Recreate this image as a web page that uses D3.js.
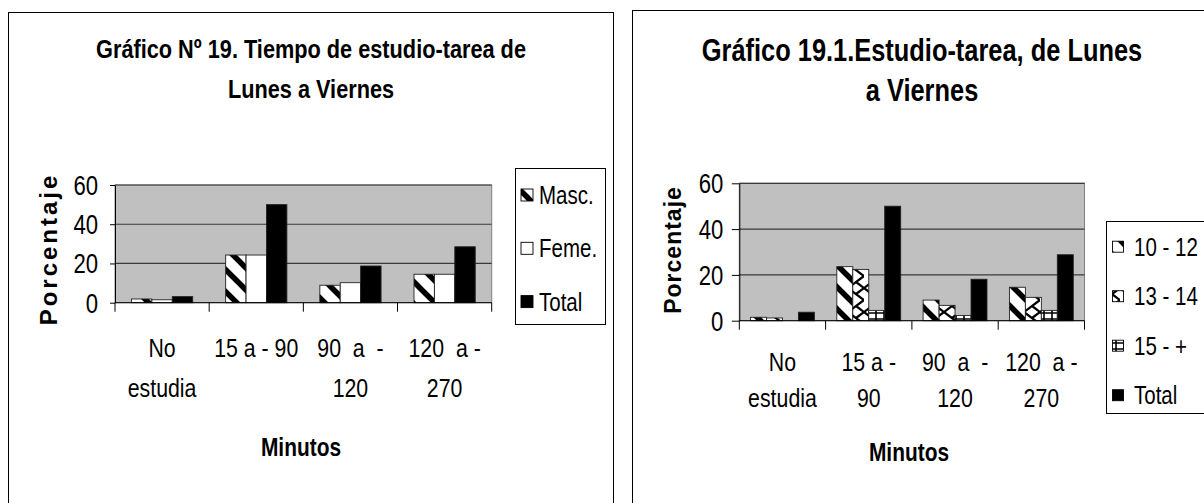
<!DOCTYPE html>
<html><head><meta charset="utf-8">
<script src="https://cdn.jsdelivr.net/npm/d3@7"></script>
<style>html,body{margin:0;padding:0;background:#fff;} svg{display:block}</style>
</head><body>
<svg id="c" width="1204" height="503"></svg>
<script>
// ---------- DATA ----------
const categories = ["No estudia", "15 a - 90", "90 a - 120", "120 a - 270"];
const catLines1 = [["No", "estudia"], ["15 a - 90"], ["90  a  -", "120"], ["120  a -", "270"]];
const catLines2 = [["No", "estudia"], ["15 a -", "90"], ["90  a  -", "120"], ["120  a -", "270"]];
const yTicks = [0, 20, 40, 60];

const seriesNames1 = ["Masc.", "Feme.", "Total"];
const masc   = [1.9, 24.3, 8.9, 14.5];
const feme   = [1.5, 24.3, 10.2, 14.5];
const total1 = [3.1, 50, 18.7, 28.5];

const seriesNames2 = ["10 - 12", "13 - 14", "15 - +", "Total"];
const edad1012 = [1.5, 23.6, 9.0, 14.6];
const edad1314 = [1.2, 22.4, 6.7, 10.2];
const edad15   = [0, 4.5, 2.3, 4.5];
const total2   = [3.7, 50, 18.1, 28.8];

const title1 = ["Gráfico Nº 19. Tiempo de estudio-tarea de", "Lunes a Viernes"];
const title2 = ["Gráfico 19.1.Estudio-tarea, de Lunes", "a Viernes"];

// ---------- SETUP ----------
const svg = d3.select("#c");
const NARROW = "'Liberation Sans Narrow','Arial Narrow','Liberation Sans'";
function measure(fam) {
  const t = svg.append("text").attr("font-family", fam).attr("font-size", 40).text("Masc. 15 a - 90 Porcentaje");
  const w = t.node().getComputedTextLength(); t.remove(); return w;
}
const hasNarrow = measure(NARROW) < 0.9 * measure("'Liberation Sans'");

function txt(g, x, y, s, size, o = {}) {
  const t = g.append("text").text(s).attr("font-size", size)
    .attr("font-weight", o.bold ? "bold" : null)
    .attr("text-anchor", o.anchor || "middle")
    .attr("fill", "#000")
    .style("white-space", "pre");
  if (hasNarrow) t.attr("font-family", NARROW).attr("x", x).attr("y", y);
  else t.attr("font-family", "'Liberation Sans',Arial,sans-serif")
        .attr("transform", `translate(${x},${y}) scale(0.82,1)`);
  return t;
}

// ---------- PATTERNS ----------
const defs = svg.append("defs");
function pat(id, w, h, draw) {
  const p = defs.append("pattern").attr("id", id).attr("patternUnits", "userSpaceOnUse")
    .attr("width", w).attr("height", h);
  p.append("rect").attr("width", w).attr("height", h).attr("fill", "#fff");
  draw(p);
}
pat("diag", 22, 22, p => p.append("path")
  .attr("d", "M-6,-6 L28,28 M-6,16 L6,28 M16,-6 L28,6")
  .attr("stroke", "#000").attr("stroke-width", 5.5));
pat("zig", 16, 24, p => p.append("path")
  .attr("d", "M0,0 L16,12 L0,24 M16,0 L8,6 M16,24 L8,18")
  .attr("stroke", "#000").attr("stroke-width", 2.2).attr("fill", "none"));
pat("grid", 8, 6, p => p.append("path")
  .attr("d", "M0,1 L8,1 M4,0 L4,6")
  .attr("stroke", "#000").attr("stroke-width", 1.6));

// ---------- CHART ----------
function drawChart(c) {
  const g = svg.append("g");
  // outer frame
  g.append("rect").attr("x", c.box[0]).attr("y", c.box[1]).attr("width", c.box[2]).attr("height", c.box[3])
    .attr("fill", "#fff").attr("stroke", "#000").attr("stroke-width", 1);
  // title
  c.title.forEach((s, i) => txt(g, c.titleX, c.titleY + i * c.titleDy, s, c.titleSize, { bold: true }));

  const x0 = d3.scaleBand().domain(categories).range([c.px0, c.px1])
    .paddingInner(c.pad).paddingOuter(c.pad / 2);
  const x1 = d3.scaleBand().domain(c.series.map(s => s.name)).range([0, x0.bandwidth()]);
  const y = d3.scaleLinear().domain([0, 60]).range([c.py1, c.py0]);

  // plot background
  g.append("rect").attr("x", c.px0).attr("y", y(60)).attr("width", c.px1 - c.px0).attr("height", y(0) - y(60))
    .attr("fill", "#c0c0c0").attr("stroke", "#808080").attr("stroke-width", 1);
  // gridlines
  g.selectAll(".grid").data(yTicks.filter(v => v > 0)).join("line")
    .attr("x1", c.px0).attr("x2", c.px1).attr("y1", d => y(d)).attr("y2", d => y(d))
    .attr("stroke", "#3a3a3a").attr("stroke-width", 1.2);

  // bars
  c.series.forEach(s => {
    g.append("g").selectAll("rect").data(categories.map((cat, i) => ({ cat, v: s.values[i] })).filter(d => d.v > 0))
      .join("rect")
      .attr("x", d => x0(d.cat) + x1(s.name))
      .attr("y", d => y(d.v))
      .attr("width", x1.bandwidth())
      .attr("height", d => y(0) - y(d.v))
      .attr("fill", s.fill).attr("stroke", "#222").attr("stroke-width", 0.9);
  });

  // y axis
  const ya = g.append("g").attr("transform", `translate(${c.px0},0)`)
    .call(d3.axisLeft(y).tickValues(yTicks).tickSize(c.yTick).tickSizeOuter(0).tickFormat(""));
  ya.selectAll("path,line").attr("stroke", "#000");
  yTicks.forEach(v => txt(g, c.px0 - c.yLabGap, y(v) + c.yLabDy, String(v), c.tickSize, { anchor: "end" }));

  // x axis
  g.append("line").attr("x1", c.px0).attr("x2", c.px1).attr("y1", y(0)).attr("y2", y(0)).attr("stroke", "#000");
  const bounds = categories.map(cat => x0(cat) - x0.step() * c.pad / 2).concat([c.px1]);
  g.selectAll(".xt").data(bounds).join("line")
    .attr("x1", d => d).attr("x2", d => d).attr("y1", y(0)).attr("y2", y(0) + c.xTick).attr("stroke", "#000");
  c.catLines.forEach((lines, i) => {
    const cx = x0(categories[i]) + x0.bandwidth() / 2;
    lines.forEach((s, j) => txt(g, cx, c.catY + j * c.catDy, s, c.catSize));
  });

  // axis titles
  g.append("text").text("Porcentaje")
    .attr("transform", `translate(${c.ylab[0]},${c.ylab[1]}) rotate(-90)`)
    .attr("text-anchor", "middle").attr("font-family", "'Liberation Sans',Arial,sans-serif")
    .attr("font-weight", "bold").attr("font-size", c.ylabSize).attr("letter-spacing", c.ylabLs);
  txt(g, c.xlab[0], c.xlab[1], "Minutos", c.xlabSize, { bold: true });

  // legend
  const L = c.legend;
  g.append("rect").attr("x", L.x).attr("y", L.y).attr("width", L.w).attr("height", L.h)
    .attr("fill", "#fff").attr("stroke", "#000").attr("stroke-width", 1);
  c.series.forEach((s, i) => {
    const cy = L.y0 + i * L.dy;
    g.append("rect").attr("x", L.sx).attr("y", cy - L.sw / 2).attr("width", L.sw).attr("height", L.sw)
      .attr("fill", s.fill).attr("stroke", "#000").attr("stroke-width", 0.9);
    txt(g, L.tx, cy + 9, s.name, L.size, { anchor: "start" });
  });
}

drawChart({
  box: [8.5, 12.5, 605, 520],
  title: title1, titleX: 311, titleY: 58, titleDy: 40, titleSize: 26.5,
  px0: 115, px1: 491.7, py0: 185, py1: 302.7, pad: 0.35,
  series: [
    { name: seriesNames1[0], values: masc, fill: "url(#diag)" },
    { name: seriesNames1[1], values: feme, fill: "#fff" },
    { name: seriesNames1[2], values: total1, fill: "#000" }
  ],
  yTick: 5, yLabGap: 17, yLabDy: 10, tickSize: 27,
  xTick: 9, catLines: catLines1, catY: 357, catDy: 40, catSize: 26,
  ylab: [57, 249], ylabSize: 24, ylabLs: 3,
  xlab: [301, 456], xlabSize: 25.5,
  legend: { x: 515.5, y: 168.5, w: 90, h: 156, y0: 195, dy: 53.3, sx: 521, sw: 12, tx: 539, size: 25 }
});

drawChart({
  box: [632.5, 10.5, 620, 520],
  title: title2, titleX: 922, titleY: 61, titleDy: 40, titleSize: 31,
  px0: 739.3, px1: 1084.5, py0: 183.3, py1: 320.7, pad: 0.26,
  series: [
    { name: seriesNames2[0], values: edad1012, fill: "url(#diag)" },
    { name: seriesNames2[1], values: edad1314, fill: "url(#zig)" },
    { name: seriesNames2[2], values: edad15, fill: "url(#grid)" },
    { name: seriesNames2[3], values: total2, fill: "#000" }
  ],
  yTick: 7.5, yLabGap: 16, yLabDy: 10, tickSize: 27,
  xTick: 9, catLines: catLines2, catY: 371, catDy: 36, catSize: 26,
  ylab: [681, 250], ylabSize: 23, ylabLs: 1,
  xlab: [909, 461], xlabSize: 25.5,
  legend: { x: 1106.5, y: 221.5, w: 120, h: 192, y0: 246.7, dy: 49.5, sx: 1112.5, sw: 11, tx: 1134, size: 25 }
});
</script>
</body></html>
